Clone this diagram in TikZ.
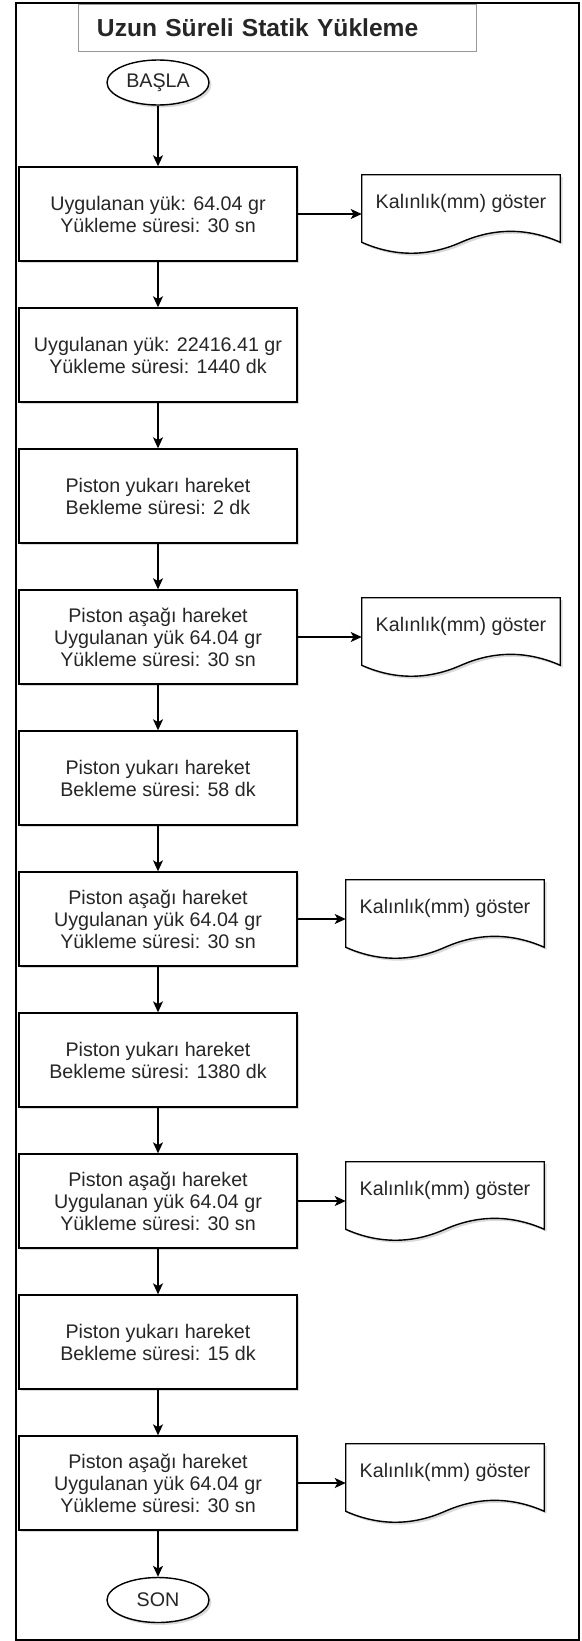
\documentclass[tikz,border=0pt]{standalone}
\usepackage{fontspec}
\setmainfont{Liberation Sans}
\usetikzlibrary{arrows.meta,shapes.geometric,shadows,backgrounds}
\begin{document}
\begin{tikzpicture}[x=0.25mm,y=-0.25mm,
  every node/.style={font=\fontsize{14}{15.6}\selectfont,text=black!85},
  shade/.style={drop shadow={shadow xshift=0.6mm,shadow yshift=-0.6mm,opacity=0.3}},
  proc/.style={draw,line width=0.35mm,fill=white,shade,minimum width=69.5mm,minimum height=23.5mm,align=center,inner sep=0pt},
  term/.style={ellipse,draw,line width=0.35mm,fill=white,shade,minimum width=25.5mm,minimum height=11.25mm,inner sep=0pt},
  docbox/.style={minimum width=49.5mm,minimum height=14mm,inner sep=0pt},
  docline/.style={draw,line width=0.35mm,fill=white,shade},
  flow/.style={line width=0.35mm,-{Stealth[length=2.75mm,width=2.5mm,inset=0.7mm]}}]
  \useasboundingbox (0,0) rectangle (582,1641);
  \draw[line width=0.5mm] (15.5,3) rectangle (579,1639.5);
  \node (title) at (277.5,27.5) [draw=black!40,line width=0.25mm,minimum width=99.25mm,minimum height=11.75mm,text width=90.25mm,inner xsep=4.5mm,align=left,font=\fontsize{17.5}{18}\selectfont\bfseries] {Uzun Süreli Statik Yükleme};
  \node (start) at (158,82.5) [term] {BAŞLA};
  \node (b1) at (158,214) [proc] {Uygulanan yük: 64.04 gr\\Yükleme süresi: 30 sn};
  \node (b2) at (158,355) [proc] {Uygulanan yük: 22416.41 gr\\Yükleme süresi: 1440 dk};
  \node (b3) at (158,496) [proc] {Piston yukarı hareket\\Bekleme süresi: 2 dk};
  \node (b4) at (158,637) [proc] {Piston aşağı hareket\\Uygulanan yük 64.04 gr\\Yükleme süresi: 30 sn};
  \node (b5) at (158,778) [proc] {Piston yukarı hareket\\Bekleme süresi: 58 dk};
  \node (b6) at (158,919) [proc] {Piston aşağı hareket\\Uygulanan yük 64.04 gr\\Yükleme süresi: 30 sn};
  \node (b7) at (158,1060) [proc] {Piston yukarı hareket\\Bekleme süresi: 1380 dk};
  \node (b8) at (158,1201) [proc] {Piston aşağı hareket\\Uygulanan yük 64.04 gr\\Yükleme süresi: 30 sn};
  \node (b9) at (158,1342) [proc] {Piston yukarı hareket\\Bekleme süresi: 15 dk};
  \node (b10) at (158,1483) [proc] {Piston aşağı hareket\\Uygulanan yük 64.04 gr\\Yükleme süresi: 30 sn};
  \node (stop) at (158,1600) [term] {SON};
  % outputs
  \node (d1) at (461,203) [docbox] {Kalınlık(mm) göster};
  \node (d4) at (461,626) [docbox] {Kalınlık(mm) göster};
  \node (d6) at (445,908) [docbox] {Kalınlık(mm) göster};
  \node (d8) at (445,1190) [docbox] {Kalınlık(mm) göster};
  \node (d10) at (445,1472) [docbox] {Kalınlık(mm) göster};
  \begin{scope}[on background layer]
    \foreach \d in {d1,d4,d6,d8,d10}
      \draw[docline] (\d.north west) -- (\d.north east) -- ([yshift=-2.75mm]\d.south east)
        .. controls ([xshift=-8.25mm,yshift=0.9mm]\d.south east) and ([xshift=8.25mm,yshift=0.9mm]\d.south) .. ([yshift=-2.75mm]\d.south)
        .. controls ([xshift=-8.25mm,yshift=-6.4mm]\d.south) and ([xshift=8.25mm,yshift=-6.4mm]\d.south west) .. ([yshift=-2.75mm]\d.south west) -- cycle;
  \end{scope}
  % flow
  \draw[flow] (start) -- (b1);
  \foreach \a/\b in {b1/b2,b2/b3,b3/b4,b4/b5,b5/b6,b6/b7,b7/b8,b8/b9,b9/b10}
    \draw[flow] (\a) -- (\b);
  \draw[flow] (b10) -- (stop);
  \foreach \a/\d in {b1/d1,b4/d4,b6/d6,b8/d8,b10/d10}
    \draw[flow] (\a.east) -- (\a.east -| \d.west);
\end{tikzpicture}
\end{document}
